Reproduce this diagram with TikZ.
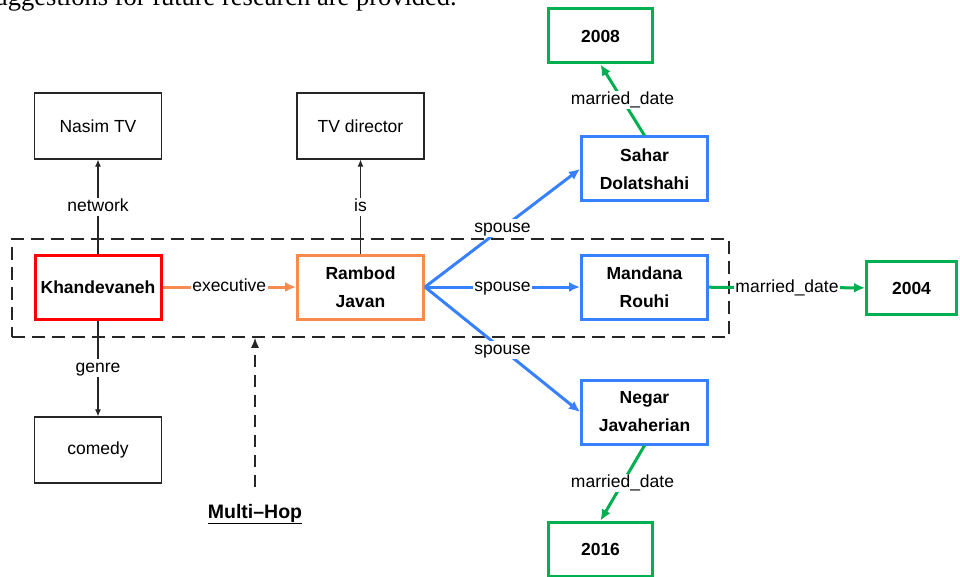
\documentclass[tikz,border=0pt]{standalone}
\usepackage{fontspec}
\setmainfont{Liberation Sans}
\newfontfamily\paperfont{Liberation Serif}
\usetikzlibrary{arrows.meta}
\definecolor{kgred}{RGB}{255,0,0}
\definecolor{kgorange}{RGB}{247,140,80}
\definecolor{kgblue}{RGB}{55,128,255}
\definecolor{kggreen}{RGB}{0,176,80}
\tikzset{
 plainbox/.style={draw=black!85,line width=1.2pt,minimum width=127pt,minimum height=66pt,font=\fontsize{17.5}{28}\selectfont},
 keybox/.style={draw=#1,line width=3pt,minimum width=126pt,minimum height=64pt,align=center,font=\bfseries\fontsize{17.5}{28}\selectfont},
 datebox/.style={draw=kggreen,line width=3pt,minimum width=104pt,minimum height=54pt,font=\bfseries\fontsize{17.5}{21}\selectfont},
 rel/.style={fill=white,inner sep=1.5pt,text height=12pt,text depth=3pt,font=\fontsize{17.5}{21}\selectfont},
 thinarrow/.style={draw=black!85,line width=1.1pt,-{Latex[length=7pt,width=6pt]}},
 thickarrow/.style={draw=#1,line width=3pt,-{Latex[length=11pt,width=10pt]}},
}
\begin{document}
\begin{tikzpicture}[x=1pt,y=-1pt]
 \useasboundingbox (0,0) rectangle (960,577);
 \clip (0,0) rectangle (960,577);
 \node[anchor=base east,inner sep=0,font=\paperfont\fontsize{26.5}{30}\selectfont] (papertext) at (457,6) {uggestions for future research are provided.};
 % multi-hop frame
 \node[draw=black!85,line width=1.5pt,dash pattern=on 13pt off 7pt,minimum width=717pt,minimum height=98pt] (hop) at (370.5,288) {};
 % entities
 \node[plainbox] (nasim) at (98,126) {Nasim TV};
 \node[plainbox] (director) at (360.5,126) {TV director};
 \node[plainbox] (comedy) at (98,450) {comedy};
 \node[keybox=kgred] (khande) at (98,287) {Khandevaneh};
 \node[keybox=kgorange] (rambod) at (360.5,287) {Rambod\\Javan};
 \node[keybox=kgblue] (sahar) at (644.5,169) {Sahar\\Dolatshahi};
 \node[keybox=kgblue] (mandana) at (644.5,287) {Mandana\\Rouhi};
 \node[keybox=kgblue] (negar) at (644.5,412) {Negar\\Javaherian};
 \node[datebox] (y2008) at (600.5,36) {2008};
 \node[datebox,minimum width=90pt,minimum height=53pt] (y2004) at (911.5,288) {2004};
 \node[datebox] (y2016) at (600.5,549) {2016};
 % relations
 \draw[thinarrow] (khande) -- node[rel] {network} (nasim);
 \draw[thinarrow] (khande) -- node[rel] {genre} (comedy);
 \draw[thinarrow] (rambod) -- node[rel] {is} (director);
 \draw[thickarrow=kgorange] (khande) -- node[rel] {executive} (rambod);
 \draw[thickarrow=kgblue] (rambod.east) -- node[rel] {spouse} (sahar.west);
 \draw[thickarrow=kgblue] (rambod.east) -- node[rel] {spouse} (mandana.west);
 \draw[thickarrow=kgblue] (rambod.east) -- node[rel] {spouse} (negar.west);
 \draw[thickarrow=kggreen] (sahar.north) -- node[rel] {married\_date} (y2008.south);
 \draw[thickarrow=kggreen] (mandana) -- node[rel] {married\_date} (y2004);
 \draw[thickarrow=kggreen] (negar.south) -- node[rel] {married\_date} (y2016.north);
 % label
 \node[anchor=base,inner sep=0,font=\bfseries\fontsize{19.5}{23}\selectfont] (mhop) at (255,518) {\underline{Multi--Hop}};
 \coordinate (hopfoot) at (255,487);
 \draw[black!85,line width=1.5pt,dash pattern=on 12pt off 8pt,-{Latex[length=10pt,width=8pt]}] (hopfoot) -- (hop.south -| hopfoot);
\end{tikzpicture}
\end{document}
